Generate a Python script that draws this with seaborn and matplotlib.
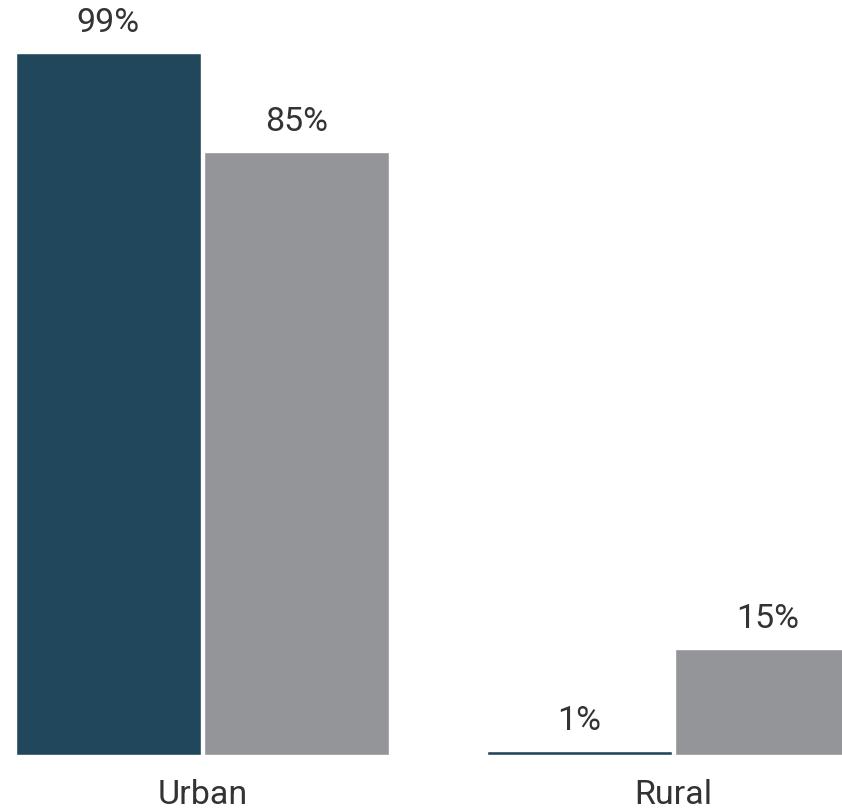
import pandas as pd
import matplotlib.pyplot as plt
import seaborn as sns

# Datos
categorias = ['Urban', 'Rural']
serie_a = [99, 0.6]   # barra oscura (etiqueta redondeada a 1%)
serie_b = [85, 15]    # barra gris
series = ['A', 'B']
colores = ['#21475C', '#939598']

df = pd.DataFrame({
    'categoria': categorias * 2,
    'serie': [series[0]] * len(categorias) + [series[1]] * len(categorias),
    'valor': serie_a + serie_b,
})

sns.set_style('white')
plt.rcParams['font.family'] = ['Roboto', 'DejaVu Sans']

fig = plt.figure(figsize=(8.42, 8.11), dpi=100)
ax = fig.add_axes([0, 56 / 811, 1, 755 / 811])

sns.barplot(data=df, x='categoria', y='valor', hue='serie', order=categorias,
            hue_order=series, palette=colores, width=0.8, gap=0.016,
            saturation=1, legend=False, ax=ax)

# Etiquetas de valor sobre las barras
for cont in ax.containers:
    ax.bar_label(cont, labels=[f'{v:.0f}%' for v in cont.datavalues],
                 padding=10, fontsize=24.5, color='#333333')

ax.set_xlim(-0.430, 1.3577)
ax.set_ylim(0, 106.4)
ax.set_xlabel('')
ax.set_ylabel('')
ax.set_yticks([])
ax.tick_params(axis='x', length=0, pad=17.5, labelsize=24.5, labelcolor='#333333')
sns.despine(ax=ax, left=True, bottom=True)

fig.savefig('out.png', dpi=100)
